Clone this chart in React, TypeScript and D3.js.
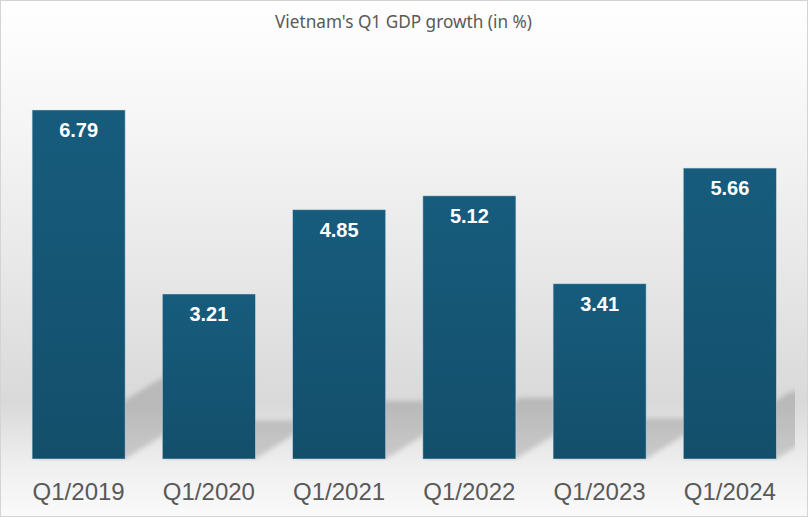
import React from "react";
import * as d3 from "d3";

const categories = ["Q1/2019", "Q1/2020", "Q1/2021", "Q1/2022", "Q1/2023", "Q1/2024"];
const values = [6.79, 3.21, 4.85, 5.12, 3.41, 5.66];
const labels = ["6.79", "3.21", "4.85", "5.12", "3.41", "5.66"];
const title = "Vietnam's Q1 GDP growth (in %)";

const W = 808;
const H = 517;
const plotLeft = 13.5;
const plotRight = 795;
const baseY = 459;
const topY = 47.8;

export default function App() {
  const x = d3.scaleBand<string>().domain(categories).range([plotLeft, plotRight]).paddingInner(0.2857).paddingOuter(0.143);
  const y = d3.scaleLinear().domain([0, 8]).range([baseY, topY]);
  const bw = x.bandwidth();
  const shadowRatio = 0.233;
  const slope = 0.63;

  const shadowPath = (c: string, v: number) => {
    const x0 = x(c)!;
    const x1 = x0 + bw;
    const h = baseY - y(v);
    const hs = h * shadowRatio;
    const dx = hs / slope;
    const p = d3.path();
    p.moveTo(x0, baseY);
    p.lineTo(x1, baseY);
    p.lineTo(x1 + dx, baseY - hs);
    p.lineTo(x0 + dx, baseY - hs);
    p.closePath();
    return p.toString();
  };

  return (
    <svg width={W} height={H} style={{ position: "fixed", left: 0, top: 0, display: "block" }}>
      <defs>
        <linearGradient id="bg" x1="0" y1="0" x2="0" y2="1">
          <stop offset="0" stopColor="#ffffff" />
          <stop offset="0.25" stopColor="#f5f5f5" />
          <stop offset="0.55" stopColor="#e6e6e6" />
          <stop offset="0.78" stopColor="#d9d9d9" />
          <stop offset="0.9" stopColor="#efefef" />
          <stop offset="1" stopColor="#fafafa" />
        </linearGradient>
        <linearGradient id="bar" x1="0" y1="0" x2="0" y2="1">
          <stop offset="0" stopColor="#175c7d" />
          <stop offset="1" stopColor="#134f6b" />
        </linearGradient>
        <filter id="blur" x="-20%" y="-20%" width="140%" height="140%">
          <feGaussianBlur stdDeviation="2.5" />
        </filter>
        <clipPath id="plotClip">
          <rect x={plotLeft} y={0} width={plotRight - plotLeft} height={baseY + 2} />
        </clipPath>
      </defs>
      <rect x={0.5} y={0.5} width={W - 1} height={H - 1} fill="url(#bg)" stroke="#d4d4d4" strokeWidth={1} />
      <text
        x={403.5}
        y={28}
        textAnchor="middle"
        fontFamily="'Noto Sans', 'Open Sans', sans-serif"
        fontSize={18.5}
        fill="#595959"
        textLength={257}
        lengthAdjust="spacingAndGlyphs"
      >
        {title}
      </text>
      <g clipPath="url(#plotClip)">
        <g filter="url(#blur)">
          {categories.map((c, i) => (
            <path key={c} d={shadowPath(c, values[i])} fill="#000" fillOpacity={0.15} />
          ))}
        </g>
      </g>
      {categories.map((c, i) => (
        <rect
          key={c}
          x={x(c)!}
          y={y(values[i])}
          width={bw}
          height={baseY - y(values[i])}
          fill="url(#bar)"
          stroke="#cfe0ea"
          strokeOpacity={0.6}
          strokeWidth={0.8}
        />
      ))}
      {categories.map((c, i) => (
        <text
          key={c}
          x={x(c)! + bw / 2}
          y={y(values[i]) + 27}
          textAnchor="middle"
          fontFamily="'Liberation Sans', Arial, sans-serif"
          fontWeight="bold"
          fontSize={20}
          fill="#ffffff"
        >
          {labels[i]}
        </text>
      ))}
      {categories.map((c) => (
        <text
          key={c}
          x={x(c)! + bw / 2}
          y={500}
          textAnchor="middle"
          fontFamily="'Liberation Sans', Arial, sans-serif"
          fontSize={24}
          fill="#595959"
        >
          {c}
        </text>
      ))}
    </svg>
  );
}
